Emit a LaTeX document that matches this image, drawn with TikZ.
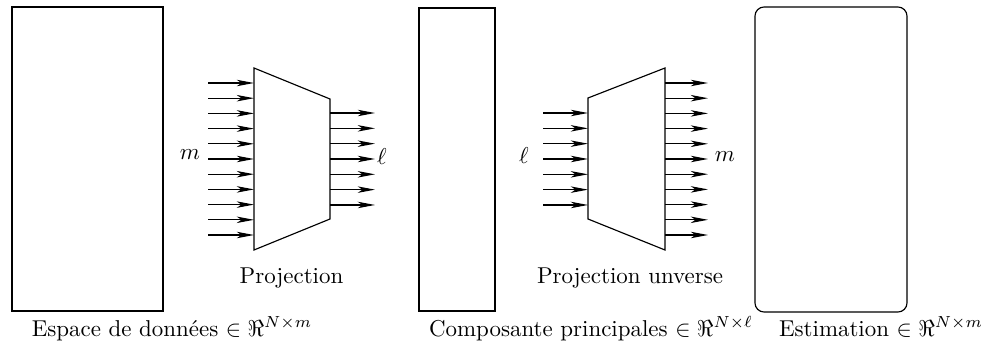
\documentclass[tikz,border=0pt]{standalone}
\usepackage{amssymb}
\usetikzlibrary{arrows.meta, positioning}
\tikzstyle{espace} = [rectangle, draw=black, line width=0.5pt, inner sep=0pt]
\tikzstyle{fleche} = [-{Stealth[length=7.5pt, width=2.8pt, inset=2pt]}, line width=0.5pt]
\tikzstyle{legende} = [inner sep=0pt, anchor=base]

\begin{document}
\begin{tikzpicture}[x=0.436pt, y=-0.436pt]
\useasboundingbox (0,0) rectangle (991,352);
% les trois espaces
\node[espace, minimum width=65.8pt, minimum height=132.5pt] (donnees) at (87.5,159) {};
\node[espace, minimum width=33.1pt, minimum height=132.1pt] (composantes) at (457,159.5) {};
\node[espace, rounded corners=4pt, minimum width=66.3pt, minimum height=133pt] (estimation) at (831,159.5) {};

% projection
\coordinate (pa) at (254,68);
\coordinate (pb) at (330,99);
\coordinate (pc) at (330,219);
\coordinate (pd) at (254,250);
\draw[line width=0.5pt] (pa) -- (pb) -- (pc) -- (pd) -- cycle;
\foreach \i in {0,...,10}
  \draw[fleche] (208,{83+15.2*\i}) -- (254,{83+15.2*\i});
\foreach \i in {0,...,6}
  \draw[fleche] (330,{113+15.33*\i}) -- (375,{113+15.33*\i});
\node (mgauche) at (190,155) {$m$};
\node (ldroite) at (382,157) {$\ell$};

% projection inverse
\coordinate (qa) at (588,98);
\coordinate (qb) at (665,68);
\coordinate (qc) at (665,250);
\coordinate (qd) at (588,219);
\draw[line width=0.5pt] (qa) -- (qb) -- (qc) -- (qd) -- cycle;
\foreach \i in {0,...,6}
  \draw[fleche] (543,{113+15.33*\i}) -- (588,{113+15.33*\i});
\foreach \i in {0,...,10}
  \draw[fleche] (665,{83+15.2*\i}) -- (708,{83+15.2*\i});
\node (lgauche) at (524,156) {$\ell$};
\node (mdroite) at (725,157) {$m$};

% legendes
\node[legende] (tproj) at (291.5,283) {Projection};
\node[legende] (tinv) at (630,283) {Projection unverse};
\node[legende] (tdonnees) at (172,336) {Espace de données $\in \Re^{N\times m}$};
\node[legende] (tcomp) at (591,336) {Composante principales $\in \Re^{N\times \ell}$};
\node[legende] (testim) at (881,336) {Estimation $\in \Re^{N\times m}$};
\end{tikzpicture}
\end{document}
